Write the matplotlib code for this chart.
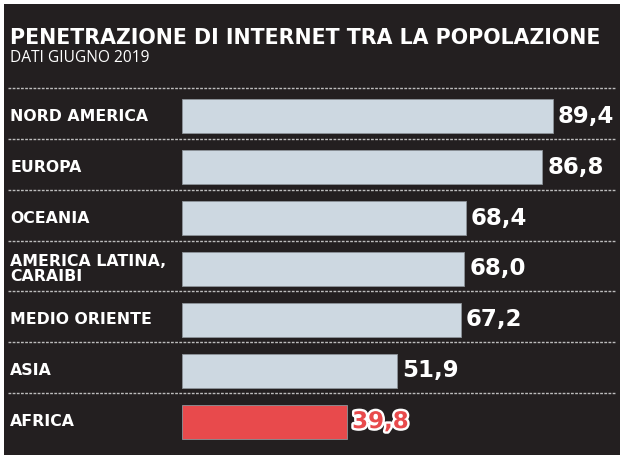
"""Penetrazione di internet tra la popolazione - bar chart."""

import matplotlib
matplotlib.use('Agg')
import matplotlib.pyplot as plt
import matplotlib.transforms as mtransforms
import matplotlib.patheffects as pe
from matplotlib.patches import Rectangle

# ---- Data ----
regions = ['NORD AMERICA', 'EUROPA', 'OCEANIA', 'AMERICA LATINA,\nCARAIBI',
           'MEDIO ORIENTE', 'ASIA', 'AFRICA']
values = [89.4, 86.8, 68.4, 68.0, 67.2, 51.9, 39.8]
value_labels = ['89,4', '86,8', '68,4', '68,0', '67,2', '51,9', '39,8']
highlight = 'AFRICA'

# ---- Colors ----
C_BG = '#231f20'
C_BAR = '#cdd8e1'
C_RED = '#e84a4c'
C_TEXT = '#ffffff'
C_DOTS = '#bdbdbd'

W, H = 625, 459
fig = plt.figure(figsize=(W / 100, H / 100), dpi=100)
fig.patch.set_facecolor('white')

# dark panel
fig.patches.append(Rectangle((4 / W, 4 / H), 616 / W, 451 / H, transform=fig.transFigure,
                             facecolor=C_BG, edgecolor='none', zorder=-5))

# title
fig.text(10 / W, 1 - 38 / H, 'PENETRAZIONE DI INTERNET TRA LA POPOLAZIONE',
         fontsize=14.8, fontweight='bold', color=C_TEXT, family='DejaVu Sans',
         ha='left', va='center')
fig.text(10 / W, 1 - 58 / H, 'DATI GIUGNO 2019',
         fontsize=11.2, color=C_TEXT, family='Open Sans', ha='left', va='center')

# bar axes: x from 182px (0) to 597px (100)
left, top, bottom = 182, 91, 447
ax = fig.add_axes([left / W, 1 - bottom / H, 415 / W, (bottom - top) / H])
ax.set_xlim(0, 100)
ax.set_ylim(len(regions) - 0.5, -0.5)
ax.axis('off')
ax.patch.set_alpha(0)

ypos = list(range(len(regions)))
colors = [C_RED if r == highlight else C_BAR for r in regions]
ax.barh(ypos, values, height=0.67, color=colors, edgecolor='#8d949a', linewidth=0.6)

label_tr = mtransforms.blended_transform_factory(fig.transFigure, ax.transData)
for y, r, v, lab in zip(ypos, regions, values, value_labels):
    ax.text(10 / W, y, r, transform=label_tr, ha='left', va='center',
            fontsize=11.3, fontweight='bold', color=C_TEXT, family='DejaVu Sans',
            linespacing=1.05)
    if r == highlight:
        ax.text(v + 1.2, y, lab, ha='left', va='center', fontsize=16.5,
                fontweight='bold', color=C_RED, family='DejaVu Sans',
                path_effects=[pe.withStroke(linewidth=3.5, foreground='white')])
    else:
        ax.text(v + 1.2, y, lab, ha='left', va='center', fontsize=16.5,
                fontweight='bold', color=C_TEXT, family='DejaVu Sans')

# dotted separators
for y in [-0.56 + i for i in range(len(regions))]:
    ax.plot([8 / W, 615 / W], [y, y], transform=label_tr, color=C_DOTS,
            lw=1.0, linestyle=(0, (2, 1)), clip_on=False)

fig.savefig('out.png', dpi=100, facecolor='white')
